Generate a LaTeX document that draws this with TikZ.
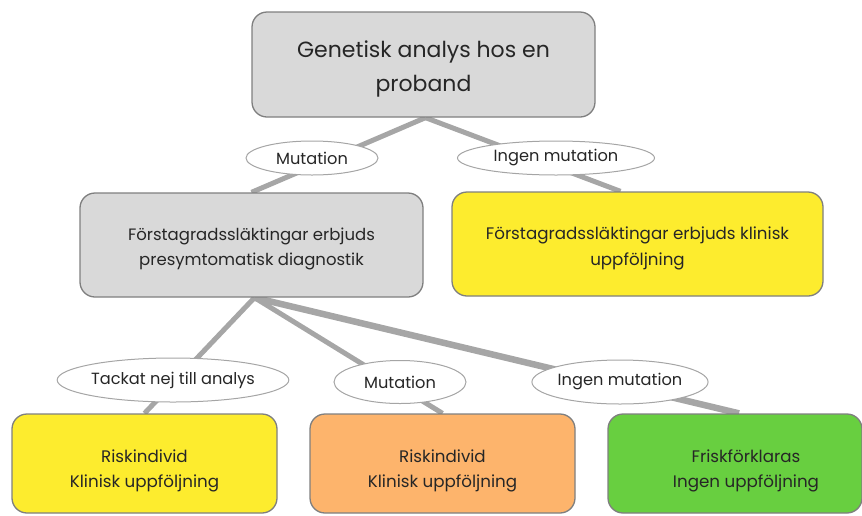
\documentclass[tikz,border=0pt]{standalone}
\usepackage{fontspec}
\setmainfont{Poppins}
\usetikzlibrary{shapes.geometric,backgrounds}
\definecolor{boxgray}{HTML}{D9D9D9}
\definecolor{boxyellow}{HTML}{FDEC2E}
\definecolor{boxorange}{HTML}{FDB46C}
\definecolor{boxgreen}{HTML}{68CF40}
\definecolor{edgegray}{HTML}{7F7F7F}
\definecolor{linkgray}{HTML}{A6A6A6}
\definecolor{txt}{HTML}{262626}
\tikzset{
  box/.style={draw=edgegray, line width=1.3pt, rounded corners=15pt, inner sep=0pt},
  boxtext/.style={align=center, text=txt, inner sep=0pt},
  lab/.style={ellipse, draw=edgegray!70, line width=1pt, fill=white, text=txt, inner sep=0pt, font=\fontsize{16.2}{19}\selectfont},
  link/.style={draw=linkgray, line width=5pt},
}
\begin{document}
\begin{tikzpicture}[x=1pt,y=-1pt]
\useasboundingbox (0,0) rectangle (862,515);
\node[box, fill=boxgray, minimum width=343pt, minimum height=105pt,
  label={[boxtext, yshift=-4.5pt, font=\fontsize{22}{34}\selectfont]center:Genetisk analys hos en\\proband}] (top) at (423.5,64.5) {};
\node[box, fill=boxgray, minimum width=343pt, minimum height=104pt,
  label={[boxtext, yshift=-4pt, font=\fontsize{16.5}{25}\selectfont]center:Förstagradssläktingar erbjuds\\presymtomatisk diagnostik}] (midL) at (251.5,245) {};
\node[box, fill=boxyellow, minimum width=371pt, minimum height=104pt,
  label={[boxtext, yshift=-4pt, font=\fontsize{16.7}{26}\selectfont]center:Förstagradssläktingar erbjuds klinisk\\uppföljning}] (midR) at (637.5,244) {};
\node[box, fill=boxyellow, minimum width=265pt, minimum height=99pt,
  label={[boxtext, yshift=-7pt, font=\fontsize{16.7}{25}\selectfont]center:Riskindivid\\Klinisk uppföljning}] (b1) at (144.5,463.5) {};
\node[box, fill=boxorange, minimum width=265pt, minimum height=99pt,
  label={[boxtext, yshift=-7pt, font=\fontsize{16.7}{25}\selectfont]center:Riskindivid\\Klinisk uppföljning}] (b2) at (442.5,463.5) {};
\node[box, fill=boxgreen, minimum width=254pt, minimum height=99pt,
  label={[boxtext, yshift=-7pt, xshift=11pt, font=\fontsize{16.7}{25}\selectfont]center:Friskförklaras\\Ingen uppföljning}] (b3) at (735,463.5) {};
\node[lab, minimum width=132pt, minimum height=34pt] (e1) at (312,158) {Mutation};
\node[lab, minimum width=197pt, minimum height=34pt] (e2) at (556,158) {Ingen mutation};
\node[lab, minimum width=228pt, minimum height=44pt] (e3) at (173,380) {Tackat nej till analys};
\node[lab, minimum width=132pt, minimum height=43pt] (e4) at (400,382) {Mutation};
\node[lab, minimum width=168pt, minimum height=44pt] (e5) at (620,382) {Ingen mutation};
\begin{scope}[on background layer]
\draw[link] ([xshift=2pt]top.south) -- (midL.north);
\draw[link] ([xshift=2pt]top.south) -- ([xshift=-17pt]midR.north);
\draw[link] ([xshift=3pt]midL.south) -- (b1.north);
\draw[link] ([xshift=3pt]midL.south) -- (b2.north);
\draw[link, line width=6.5pt] ([xshift=3pt]midL.south) -- ([xshift=4pt]b3.north);
\end{scope}
\end{tikzpicture}
\end{document}
